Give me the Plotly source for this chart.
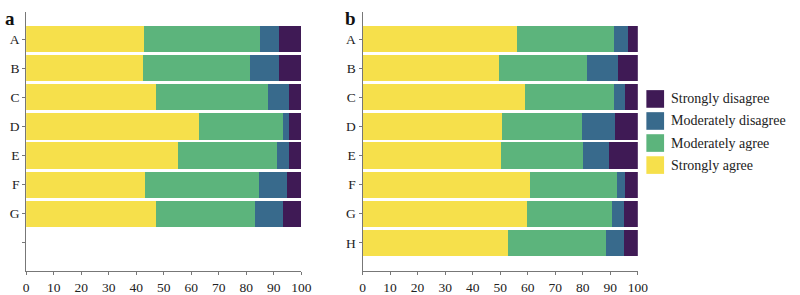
import plotly.graph_objects as go

# ---- data ----
cats_a = ["A", "B", "C", "D", "E", "F", "G"]
cats_b = ["A", "B", "C", "D", "E", "F", "G", "H"]

series_names = ["Strongly agree", "Moderately agree", "Moderately disagree", "Strongly disagree"]
colors = ["#f6e04b", "#5cb47c", "#386a8c", "#3f1a55"]

# panel a (percent)
a_strongly_agree = [42.8, 42.4, 47.2, 62.7, 55.2, 43.3, 47.1]
a_moderately_agree = [42.1, 39.0, 40.7, 30.6, 36.1, 41.2, 36.1]
a_moderately_disagree = [6.9, 10.4, 7.7, 2.3, 4.3, 10.1, 10.1]
a_strongly_disagree = [8.2, 8.2, 4.4, 4.4, 4.4, 5.4, 6.7]

# panel b (percent)
b_strongly_agree = [56.0, 49.4, 59.1, 50.7, 50.2, 60.9, 59.8, 52.9]
b_moderately_agree = [35.2, 32.0, 32.4, 28.9, 30.0, 31.4, 30.7, 35.4]
b_moderately_disagree = [5.4, 11.5, 3.9, 12.1, 9.3, 2.9, 4.5, 6.8]
b_strongly_disagree = [3.4, 7.1, 4.6, 8.3, 10.5, 4.8, 5.0, 4.9]

x_ticks = [0, 10, 20, 30, 40, 50, 60, 70, 80, 90, 100]

a_series = [a_strongly_agree, a_moderately_agree, a_moderately_disagree, a_strongly_disagree]
b_series = [b_strongly_agree, b_moderately_agree, b_moderately_disagree, b_strongly_disagree]

fig = go.Figure()

for vals, name, col in zip(a_series, series_names, colors):
    fig.add_trace(go.Bar(
        x=vals, y=list(range(len(cats_a))), orientation="h", width=0.9,
        marker=dict(color=col, line=dict(width=0)), name=name,
        showlegend=False, xaxis="x", yaxis="y"))

for vals, name, col in zip(b_series, series_names, colors):
    fig.add_trace(go.Bar(
        x=vals, y=list(range(len(cats_b))), orientation="h", width=0.9,
        marker=dict(color=col, line=dict(width=0)), name=name,
        showlegend=False, xaxis="x2", yaxis="y2"))

W, H = 800, 295
serif = "Liberation Serif, Times New Roman, serif"

def xax(domain, anchor):
    return dict(domain=domain, anchor=anchor, range=[0, 100], tickvals=x_ticks,
                showline=True, linecolor="#777", linewidth=1, ticks="outside",
                ticklen=3, tickcolor="#777", showgrid=False, zeroline=False,
                tickfont=dict(family=serif, size=13.5, color="#222"))

def yax(domain, anchor, ticktext):
    return dict(domain=domain, anchor=anchor, range=[7.98, -0.92],
                tickvals=list(range(8)), ticktext=ticktext,
                showline=True, linecolor="#777", linewidth=1, ticks="outside",
                ticklen=3, tickcolor="#777", showgrid=False, zeroline=False,
                tickfont=dict(family=serif, size=13.5, color="#222"))

ydom = [1 - 277 / H, 1 - 12.7 / H]

fig.update_layout(
    width=W, height=H,
    margin=dict(l=0, r=0, t=0, b=0),
    paper_bgcolor="white", plot_bgcolor="white",
    barmode="stack",
    xaxis=xax([23.5 / W, 303.3 / W], "y"),
    yaxis=yax(ydom, "x", cats_a + [""]),
    xaxis2=xax([365.5 / W, 645.3 / W], "y2"),
    yaxis2=yax(ydom, "x2", cats_b),
    showlegend=False,
)

# panel letters
fig.add_annotation(x=0.5 / W, y=1 - 6 / H, xref="paper", yref="paper", text="<b>a</b>",
                   showarrow=False, xanchor="left", yanchor="top",
                   font=dict(family=serif, size=19, color="#111"))
fig.add_annotation(x=346 / W, y=1 - 6 / H, xref="paper", yref="paper", text="<b>b</b>",
                   showarrow=False, xanchor="left", yanchor="top",
                   font=dict(family=serif, size=19, color="#111"))

# legend (reversed order: Strongly disagree on top)
leg_names = series_names[::-1]
leg_colors = colors[::-1]
y0 = 92
for i, (nm, col) in enumerate(zip(leg_names, leg_colors)):
    top = y0 + i * 22.5
    fig.add_shape(type="rect", xref="paper", yref="paper",
                  x0=654 / W, x1=672 / W, y0=1 - (top + 18) / H, y1=1 - top / H,
                  fillcolor=col, line=dict(width=0))
    fig.add_annotation(x=677 / W, y=1 - (top + 9) / H, xref="paper", yref="paper",
                       text=nm, showarrow=False, xanchor="left", yanchor="middle",
                       font=dict(family=serif, size=14, color="#222"))

fig.write_html("out.html",
               config={"displayModeBar": False},
               post_script="document.body.style.margin='0';document.body.style.overflow='hidden';")
